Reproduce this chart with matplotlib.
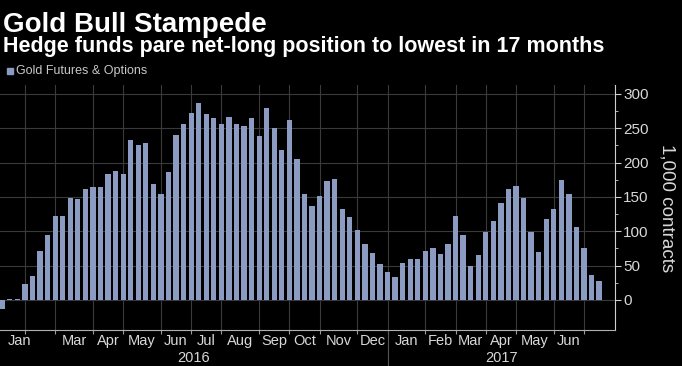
"""
Gold Bull Stampede - hedge fund net-long gold positions (weekly)
"""
import matplotlib
matplotlib.use("Agg")
import matplotlib.pyplot as plt
import matplotlib.transforms as mtransforms
import numpy as np
import pandas as pd

# weekly CFTC values, 1,000 contracts (Jan 12 2016 .. Jul 18 2017)
first_week = "2016-01-12"
net_long = [
    -13, 1, 2, 24, 35, 72, 94, 123, 122, 149,
    147, 162, 164, 164, 184, 188, 184, 233, 226, 228,
    169, 155, 186, 241, 257, 273, 287, 271, 265, 257,
    267, 256, 254, 265, 239, 279, 250, 219, 262, 205,
    154, 137, 152, 173, 176, 132, 121, 102, 81, 68,
    53, 41, 34, 54, 60, 59, 71, 75, 67, 82,
    122, 94, 49, 65, 99, 115, 141, 162, 166, 149,
    99, 70, 118, 132, 175, 155, 106, 76, 37, 28,
]
y_ticks = [0, 50, 100, 150, 200, 250, 300]
title = "Gold Bull Stampede"
subtitle = "Hedge funds pare net-long position to lowest in 17 months"
series_name = "Gold Futures & Options"
y_label = "1,000 contracts"

BAR = "#8b9bc2"
GRID = "#3a3a3a"
TXT = "#d8d8d8"

weeks = pd.date_range(first_week, periods=len(net_long), freq="W-TUE")
idx = np.arange(len(net_long))

# first bar of every month -> gridlines
month_key = weeks.year * 12 + weeks.month
month_starts = [i for i in idx if i > 0 and month_key[i] != month_key[i - 1]]

plt.rcParams["font.family"] = ["Liberation Sans", "DejaVu Sans"]

W, H = 682, 366
fig = plt.figure(figsize=(W / 100, H / 100), dpi=100, facecolor="black")
ax = fig.add_axes([0 / W, (H - 330) / H, 615 / W, 245 / H])
ax.set_facecolor("black")

ax.bar(idx, net_long, width=0.7, color=BAR, zorder=3)

ax.set_xlim(-0.30, 81.1)
ax.set_ylim(-43.7, 313.1)

# axes styling
for s in ["top", "left"]:
    ax.spines[s].set_visible(False)
ax.spines["right"].set_color("#cfcfcf")
ax.spines["bottom"].set_color("#b0b0b0")

ax.yaxis.tick_right()
ax.set_yticks(y_ticks)
ax.set_yticks(np.arange(0, 301, 25), minor=True)
ax.tick_params(axis="y", which="major", colors="#cfcfcf", labelcolor=TXT,
               labelsize=11, length=4, pad=2)
ax.tick_params(axis="y", which="minor", colors="#cfcfcf", length=2)

ax.set_xticks(month_starts)
ax.set_xticklabels([])
ax.tick_params(axis="x", which="major", colors="#9a9a9a", length=3)

ax.set_axisbelow(True)
ax.grid(True, color=GRID, linewidth=0.8)

# month labels, centred between the month gridlines
tr = mtransforms.blended_transform_factory(ax.transData, ax.transAxes)
edges = [0] + month_starts + [len(net_long)]
for k in range(len(edges) - 1):
    s, e = edges[k], edges[k + 1]
    name = weeks[s].strftime("%b")
    if k == 0:
        ax.text(2.3, -0.045, name, transform=tr, ha="center", va="center",
                color=TXT, fontsize=10.5)
        continue
    if k == 1 or e - s < 4:
        continue  # Feb 2016 dropped (collides with Jan), Jul 2017 too short
    ax.text((s + e) / 2, -0.045, name, transform=tr, ha="center",
            va="center", color=TXT, fontsize=10.5)

# year labels and separator
year_start = [i for i in idx if weeks[i].year == 2017][0]
ax.axvline(year_start, ymin=-0.147, ymax=0, color="#555555", lw=0.8,
           clip_on=False)
xl = ax.get_xlim()
ax.text((xl[0] + year_start) / 2, -0.114, "2016", transform=tr,
        ha="center", va="center", color=TXT, fontsize=10.5)
ax.text((year_start + xl[1]) / 2, -0.114, "2017", transform=tr,
        ha="center", va="center", color=TXT, fontsize=10.5)

fig.text(667 / W, (H - 208) / H, y_label, rotation=270, ha="center",
         va="center", color=TXT, fontsize=13.5)

# titles and legend
fig.text(3 / W, (H - 32) / H, title, color="white", fontsize=20,
         fontweight="bold", va="baseline", ha="left")
fig.text(3 / W, (H - 52) / H, subtitle, color="white", fontsize=15.5,
         fontweight="bold", va="baseline", ha="left")
fig.patches.append(plt.Rectangle((7 / W, (H - 74) / H), 6 / W, 6 / H,
                                 transform=fig.transFigure, color=BAR))
fig.text(16 / W, (H - 71) / H, series_name, color="#c8c8c8", fontsize=9,
         va="center", ha="left")

fig.savefig("out.png", dpi=100, facecolor="black")
